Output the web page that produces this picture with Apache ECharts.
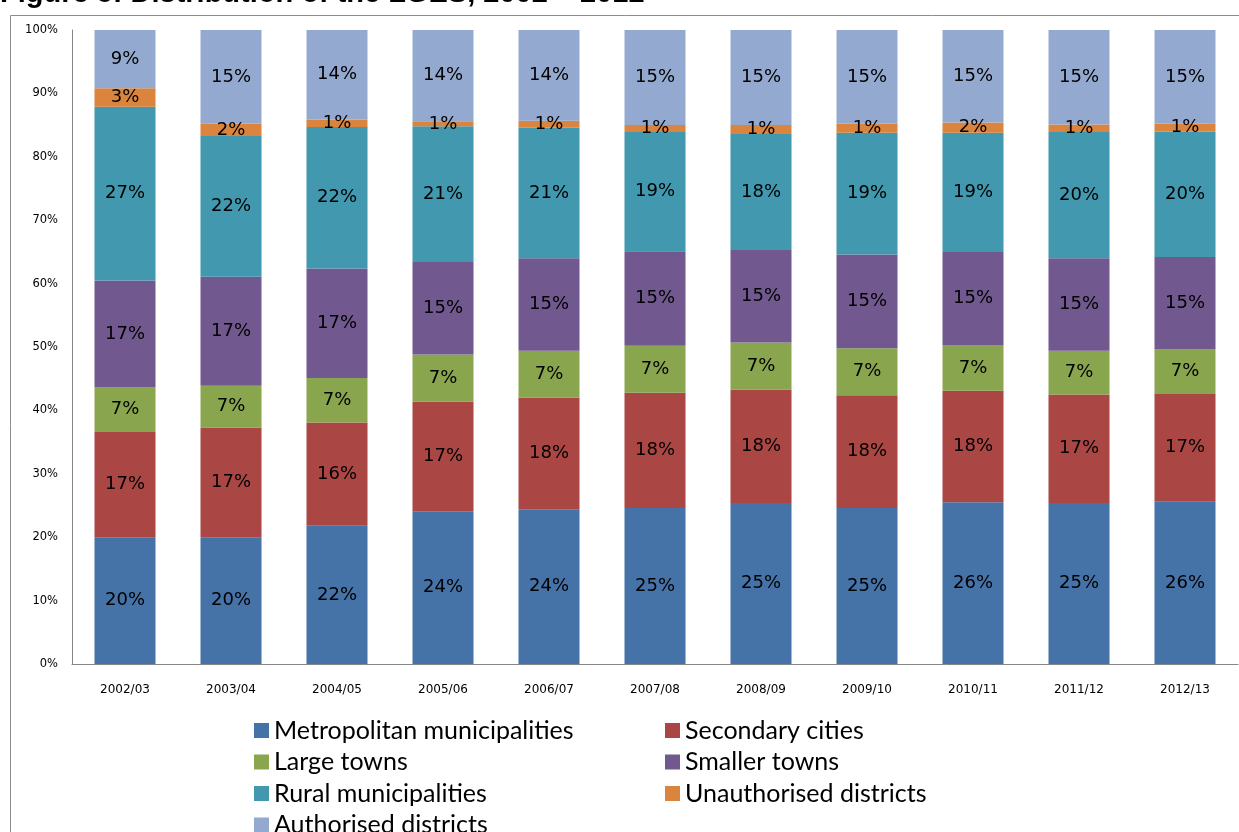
<!DOCTYPE html>
<html><head><meta charset="utf-8">
<script src="https://cdn.jsdelivr.net/npm/echarts@6/dist/echarts.min.js"></script>
<style>html,body{margin:0;padding:0;background:#fff;overflow:hidden}#c{width:1239px;height:832px}</style>
</head><body><div id="c"></div>
<script>
const categories = ['2002/03','2003/04','2004/05','2005/06','2006/07','2007/08','2008/09','2009/10','2010/11','2011/12','2012/13'];
const metro        = [20.0,20.0,21.8,24.1,24.4,24.6,25.4,24.6,25.5,25.4,25.6];
const secondary    = [16.6,17.3,16.3,17.3,17.6,18.2,17.9,17.8,17.6,17.1,17.0];
const largeTowns   = [7.0,6.6,7.0,7.4,7.4,7.4,7.4,7.4,7.2,6.9,7.0];
const smallerTowns = [16.9,17.2,17.3,14.6,14.6,14.9,14.6,14.8,14.7,14.6,14.6];
const rural        = [27.4,22.2,22.3,21.4,20.6,18.8,18.3,19.2,18.8,19.9,19.8];
const unauthorised = [2.9,1.9,1.2,0.8,1.1,1.1,1.4,1.4,1.6,1.2,1.2];
const authorised   = [9.2,14.8,14.1,14.4,14.3,15.0,15.0,14.8,14.6,14.9,14.8];
const seriesNames = ['Metropolitan municipalities','Secondary cities','Large towns','Smaller towns','Rural municipalities','Unauthorised districts','Authorised districts'];
const seriesData = [metro, secondary, largeTowns, smallerTowns, rural, unauthorised, authorised];
const colors = ['#4572A7','#AA4643','#89A54E','#71588F','#4198AF','#DB843D','#93A9CF'];
const titleText = 'Figure 5: Distribution of the LGES, 2002 \u2013 2012';

const chart = echarts.init(document.getElementById('c'), null, {renderer:'canvas'});
const series = seriesNames.map((n,i)=>({
  name:n, type:'bar', stack:'all', data:seriesData[i], barWidth:61,
  itemStyle:{color:colors[i]},
  label:{show:true, position:'inside', color:'#000', fontFamily:'DejaVu Sans', fontSize:18,
         formatter:p=>Math.round(p.value)+'%'}
}));
const legendText = {fontFamily:'Lato', fontSize:25, color:'#000', lineHeight:25};
const legendBase = {orient:'vertical', padding:0, itemWidth:15, itemHeight:15, itemGap:6.5, icon:'rect', textStyle:legendText, selectedMode:false};
chart.setOption({
  animation:false,
  color:colors,
  title:{text:titleText, left:0, top:-21, padding:0, textStyle:{fontFamily:'Liberation Sans', fontWeight:'bold', fontSize:29, color:'#000'}},
  graphic:[{type:'rect', shape:{x:10.5,y:15.5,width:1400,height:1000}, style:{fill:null, stroke:'#8c8c8c', lineWidth:1}, silent:true, z:-10}],
  grid:{left:72, right:1, top:30, bottom:168, containLabel:false},
  xAxis:{type:'category', data:categories, axisTick:{show:false},
    axisLine:{lineStyle:{color:'#868686'}},
    axisLabel:{fontFamily:'DejaVu Sans', fontSize:12, color:'#000', margin:20}},
  yAxis:{type:'value', min:0, max:100, interval:10, splitLine:{show:false},
    axisLine:{show:true, lineStyle:{color:'#868686'}}, axisTick:{show:false},
    axisLabel:{fontFamily:'DejaVu Sans', fontSize:11.5, color:'#000', margin:14, formatter:'{value}%'}},
  legend:[
    Object.assign({data:[seriesNames[0],seriesNames[2],seriesNames[4]], left:254, top:718}, legendBase),
    Object.assign({data:[seriesNames[6]], left:254, top:812.5}, legendBase),
    Object.assign({data:[seriesNames[1],seriesNames[3],seriesNames[5]], left:665, top:718}, legendBase)
  ],
  series:series
});
</script></body></html>
